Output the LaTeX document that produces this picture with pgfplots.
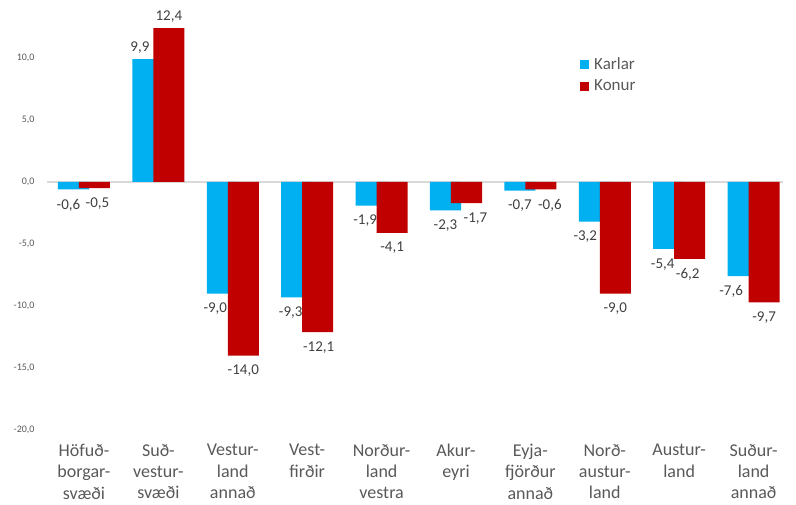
\documentclass[border=0pt]{standalone}
\usepackage{fontspec}
\setmainfont{Carlito}
\usepackage{pgfplots}
\pgfplotsset{compat=1.18}
\usepackage{pgfplotstable}
\definecolor{karlar}{HTML}{00B0F0}
\definecolor{konur}{HTML}{C00000}
\definecolor{txt}{HTML}{595959}
\definecolor{lbl}{HTML}{404040}
\definecolor{zeroln}{HTML}{D9D9D9}

% x = region index, y = value, dx = label nudge (pt)
\pgfplotstableread{
x y dx
0 -0.6 -5
1 9.9 -8
2 -9.0 -7
3 -9.3 -6
4 -1.9 -6
5 -2.3 0
6 -0.7 0
7 -3.2 -9
8 -5.4 -6
9 -7.6 -12
}\tblkarlar

\pgfplotstableread{
x y dx
0 -0.5 3
1 12.4 0
2 -14.0 0
3 -12.1 1
4 -4.1 0
5 -1.7 9
6 -0.6 9
7 -9.0 0
8 -6.2 -2
9 -9.7 0
}\tblkonur

\begin{document}
\begin{tikzpicture}
\begin{axis}[
  scale only axis,
  width=736pt, height=421.6pt,
  xmin=-0.497, xmax=9.395, ymin=-20, ymax=14,
  clip=false,
  ybar, bar width=0.417,
  axis line style={draw=none},
  major tick length=0pt,
  xtick={0,...,9},
  xticklabels={{Höfuð-\\borgar-\\svæði},{Suð-\\vestur-\\svæði},{Vestur-\\land\\annað},{Vest-\\firðir},{Norður-\\land\\vestra},{Akur-\\eyri},{Eyja-\\fjörður\\annað},{Norð-\\austur-\\land},{Austur-\\land},{Suður-\\land\\annað}},
  xticklabel style={align=center, font=\fontsize{18}{21.3}\selectfont, text=txt, yshift=-13pt, inner sep=1pt},
  ytick={-20,-15,...,10},
  yticklabel style={font=\fontsize{10}{12}\selectfont, text=txt, xshift=-9pt,
    /pgf/number format/.cd, fixed, fixed zerofill, precision=1, use comma, assume math mode=true},
  extra y ticks={0}, extra y tick labels={},
  extra y tick style={grid=major, major grid style={zeroln, line width=1.6pt}},
  nodes near coords,
  visualization depends on={\thisrow{dx}\as\dx},
  visualization depends on={\thisrow{y}\as\yv},
  nodes near coords style={font=\fontsize{15}{18}\selectfont, text=lbl, xshift=\dx pt,
    yshift={ifthenelse(\yv<0,-6,2)}},
  every node near coord/.append style={/pgf/number format/.cd, fixed, fixed zerofill, precision=1, use comma, assume math mode=true},
  legend style={at={(axis cs:6.667,10.2)}, anchor=north west, draw=none, fill=none,
    font=\fontsize{17}{20}\selectfont, text=txt, row sep=5pt, inner sep=0pt,
    nodes={inner xsep=5pt}},
  legend cell align=left,
  legend image code/.code={\fill[#1] (0pt,-4.5pt) rectangle (9pt,4.5pt);},
]
\addplot[fill=karlar, draw=none, bar shift=-0.141] table[x=x,y=y] {\tblkarlar};
\addplot[fill=konur, draw=none, bar shift=0.141] table[x=x,y=y] {\tblkonur};
\legend{Karlar, Konur}
\coordinate (tl) at (axis cs:-1.129,14.677);
\coordinate (br) at (axis cs:9.570,-26.05);
\end{axis}
\pgfresetboundingbox
\path[use as bounding box] (tl) rectangle (br);
\end{tikzpicture}
\end{document}
